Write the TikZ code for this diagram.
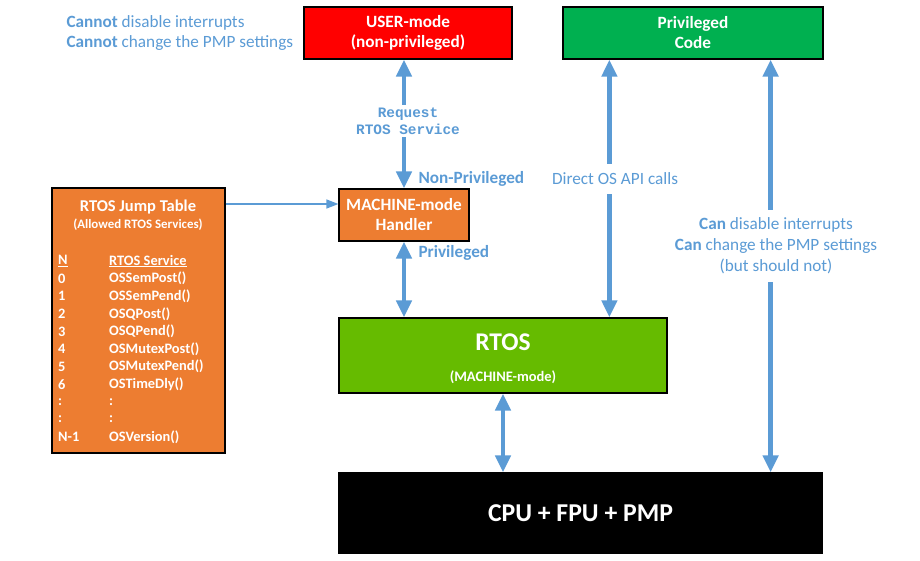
\documentclass[tikz,border=0pt]{standalone}
\usepackage{fontspec}
\setmainfont{Carlito}
\setmonofont{Liberation Mono}
\usetikzlibrary{arrows.meta}
\definecolor{linkblue}{HTML}{5B9BD5}
\definecolor{userred}{HTML}{FF0000}
\definecolor{privgreen}{HTML}{00B050}
\definecolor{rtosgreen}{HTML}{66BB00}
\definecolor{mmorange}{HTML}{ED7D31}

\begin{document}
\begin{tikzpicture}
  [x=1pt,y=-1pt,
  box/.style={draw=black,line width=1.2pt,text=white,align=center,inner sep=0pt,
    font=\fontsize{17.2}{20}\selectfont\bfseries},
  link/.style={linkblue,line width=4.5pt,
    {Triangle[width=15pt,length=17pt]}-{Triangle[width=15pt,length=17pt]}},
  calllink/.style={linkblue,line width=1.5pt,-{Triangle[width=9pt,length=12pt]}},
  note/.style={text=linkblue,align=center,font=\fontsize{17.2}{21}\selectfont},
  row/.style={anchor=west,text=white,inner sep=0pt,font=\fontsize{14.4}{16}\selectfont\bfseries}]
\useasboundingbox (0,0) rectangle (920,560);

\node[box,fill=userred,minimum width=208,minimum height=52] (user) at (408,33) {USER-mode\\(non-privileged)};
\node[box,fill=privgreen,minimum width=260,minimum height=52] (priv) at (693,33) {Privileged\\Code};
\node[box,fill=mmorange,minimum width=130,minimum height=52] (handler) at (404,215) {MACHINE-mode\\Handler};
\node[box,fill=rtosgreen,minimum width=328,minimum height=75] (rtos) at (503,355.5) {};
\node[text=white,font=\fontsize{25.5}{30}\selectfont\bfseries] (rtosname) at (503,342) {RTOS};
\node[text=white,font=\fontsize{14.5}{16}\selectfont\bfseries] (rtosmode) at (503,377) {(MACHINE-mode)};
\node[box,fill=black,minimum width=483,minimum height=80,font=\fontsize{25.7}{30}\selectfont\bfseries] (cpu) at (580.5,513) {CPU + FPU + PMP};

% jump table
\node[box,fill=mmorange,minimum width=173,minimum height=265] (jt) at (138.5,320.5) {};
\node[text=white,font=\fontsize{16.5}{18}\selectfont\bfseries] (jttitle) at (138,207) {RTOS Jump Table};
\node[text=white,font=\fontsize{12.9}{14}\selectfont\bfseries] (jtsub) at (138,225) {(Allowed RTOS Services)};
\foreach \n/\s [count=\i from 0] in {\underline{N}/\underline{RTOS Service},0/OSSemPost(),1/OSSemPend(),
  2/OSQPost(),3/OSQPend(),4/OSMutexPost(),5/OSMutexPend(),6/OSTimeDly(),:/:,:/:,N-1/OSVersion()}
{
  \node[row] (n\i) at (58,261+17.6*\i) {\n};
  \node[row] (s\i) at (109,261+17.6*\i) {\s};
}

\node[note,anchor=west,align=left,font=\fontsize{17.2}{20}\selectfont] (cannot) at (63,33)
  {\textbf{Cannot} disable interrupts\\\textbf{Cannot} change the PMP settings};

\coordinate (apiup) at ([xshift=47pt]priv.south west);
\coordinate (canup) at ([xshift=-53pt]priv.south east);
\coordinate (callin) at ([yshift=11pt]handler.west);

\draw[link] (handler.north |- user.south) -- (handler.north);
\draw[link] (handler.south) -- (handler.south |- rtos.north);
\draw[link] (rtos.south) -- (rtos.south |- cpu.north);
\draw[link] (apiup) -- (apiup |- rtos.north);
\draw[link] (canup) -- (canup |- cpu.north);
\draw[calllink] (jt.east |- callin) -- (callin);

\node[note,fill=white,inner sep=3pt,font=\fontsize{14.4}{17}\selectfont\ttfamily\bfseries] (req) at (408,121)
  {Request\\RTOS Service};
\node[note,anchor=west,font=\fontsize{17.2}{20}\selectfont\bfseries] (nonpriv) at (415,179) {Non-Privileged};
\node[note,anchor=west,font=\fontsize{17.2}{20}\selectfont\bfseries] (privlbl) at (415,253) {Privileged};
\node[note,fill=white,inner xsep=3pt,inner ysep=9pt] (api) at (615,179) {Direct OS API calls};
\node[note,fill=white,inner xsep=3pt,inner ysep=8pt] (can) at (776,246)
  {\textbf{Can} disable interrupts\\\textbf{Can} change the PMP settings\\(but should not)};
\end{tikzpicture}
\end{document}
